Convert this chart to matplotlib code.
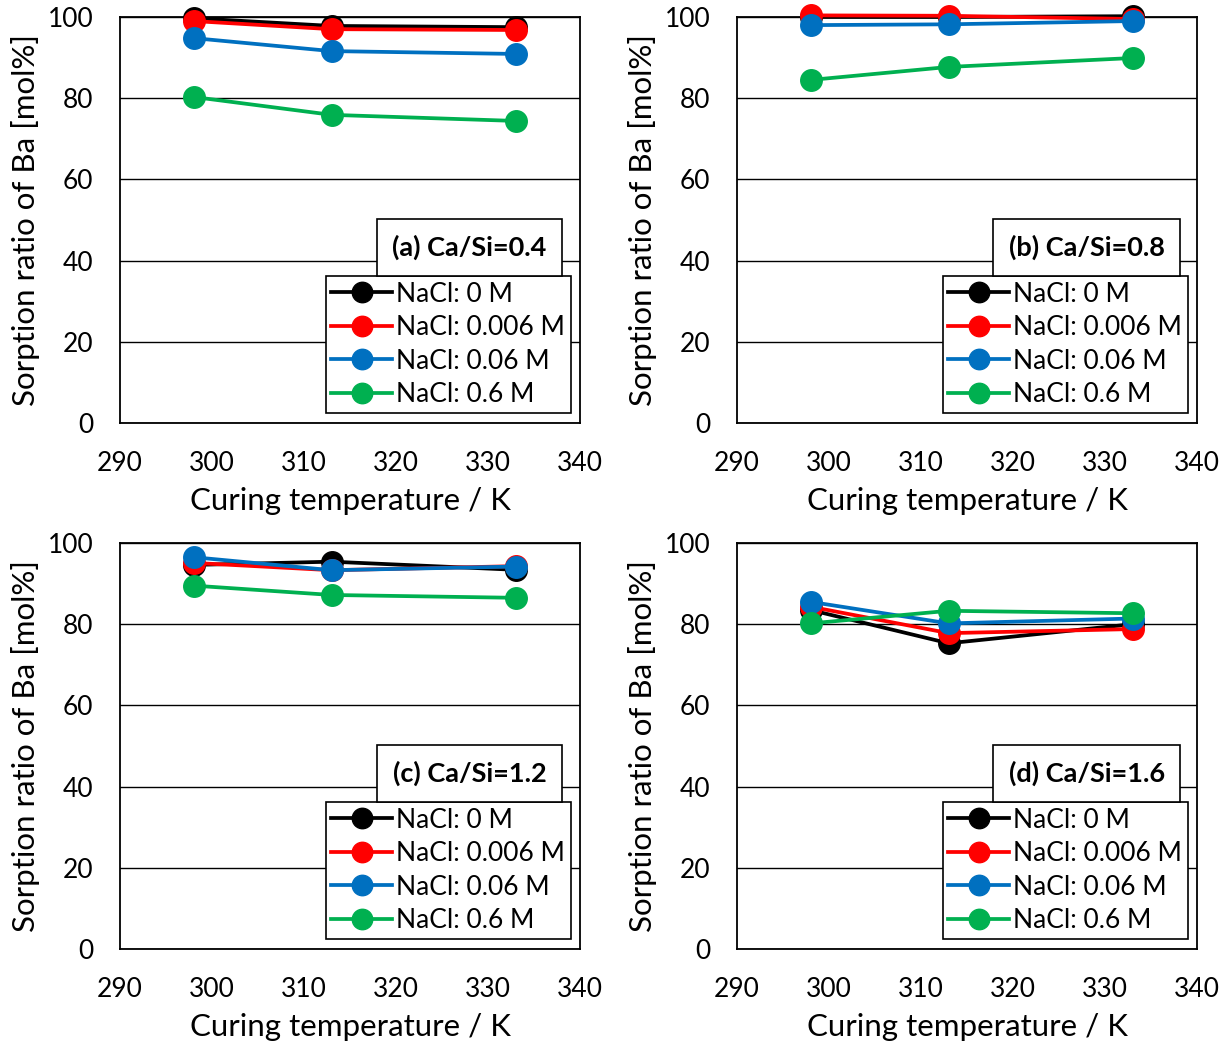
import matplotlib.pyplot as plt

plt.rcParams['font.family'] = ['Lato', 'DejaVu Sans']

# curing temperature [K]
temps = [298, 313, 333]

# sorption ratio of Ba [mol%] per panel, per NaCl concentration
a_0m = [99.7, 97.8, 97.5]
a_0006m = [99.0, 97.0, 96.8]
a_006m = [94.8, 91.6, 90.9]
a_06m = [80.3, 75.9, 74.4]

b_0m = [100.0, 100.0, 100.2]
b_0006m = [100.4, 100.3, 99.5]
b_006m = [98.0, 98.2, 99.0]
b_06m = [84.5, 87.7, 89.9]

c_0m = [94.6, 95.4, 93.4]
c_0006m = [95.1, 93.3, 94.3]
c_006m = [96.5, 93.3, 94.2]
c_06m = [89.5, 87.2, 86.5]

d_0m = [83.5, 75.3, 80.0]
d_0006m = [84.3, 77.8, 78.8]
d_006m = [85.5, 80.2, 81.4]
d_06m = [80.2, 83.3, 82.7]

labels = ['NaCl: 0 M', 'NaCl: 0.006 M', 'NaCl: 0.06 M', 'NaCl: 0.6 M']
colors = ['#000000', '#FF0000', '#0070C0', '#00B050']
titles = ['(a) Ca/Si=0.4', '(b) Ca/Si=0.8', '(c) Ca/Si=1.2', '(d) Ca/Si=1.6']

panels = [
    [a_0m, a_0006m, a_006m, a_06m],
    [b_0m, b_0006m, b_006m, b_06m],
    [c_0m, c_0006m, c_006m, c_06m],
    [d_0m, d_0006m, d_006m, d_06m],
]

fig = plt.figure(figsize=(12.28, 10.44), dpi=100)

W, H = 1228.0, 1044.0
rects = [(120, 17), (737, 17), (120, 543), (737, 543)]
aw, ah = 460, 406

for k, (series, title) in enumerate(zip(panels, titles)):
    x0, y0 = rects[k]
    ax = fig.add_axes([x0 / W, (H - y0 - ah) / H, aw / W, ah / H])
    for ys, lab, col in zip(series, labels, colors):
        ax.plot(temps, ys, '-o', color=col, lw=2.7, ms=15.5, label=lab,
                clip_on=False, zorder=3)
    ax.set_xlim(290, 340)
    ax.set_ylim(0, 100)
    ax.set_xticks(range(290, 341, 10))
    ax.set_yticks(range(0, 101, 20))
    ax.tick_params(length=0, labelsize=19)
    ax.tick_params(axis='x', pad=20)
    ax.tick_params(axis='y', pad=19)
    ax.yaxis.grid(True, color='black', lw=1.0)
    ax.set_axisbelow(True)
    for s in ax.spines.values():
        s.set_linewidth(1.3)
    ax.set_xlabel('Curing temperature / K', fontsize=22.5, labelpad=8)
    ax.set_ylabel('Sorption ratio of Ba [mol%]', fontsize=22.5, labelpad=6)

    leg = ax.legend(loc='lower right', bbox_to_anchor=(0.98, 0.025),
                    fontsize=19, frameon=True, fancybox=False,
                    edgecolor='black', framealpha=1, labelspacing=0.32,
                    handlelength=2.3, handletextpad=0.15, borderpad=0.22,
                    borderaxespad=0, markerscale=0.95)
    leg.get_frame().set_linewidth(1.2)
    leg.set_zorder(5)

    ax.text(0.76, 0.432, title, transform=ax.transAxes, fontsize=19.5,
            fontweight='bold', ha='center', va='center', zorder=6,
            bbox=dict(boxstyle='square,pad=0.58', fc='white', ec='black', lw=1.2))

fig.savefig('out.png', dpi=100)
